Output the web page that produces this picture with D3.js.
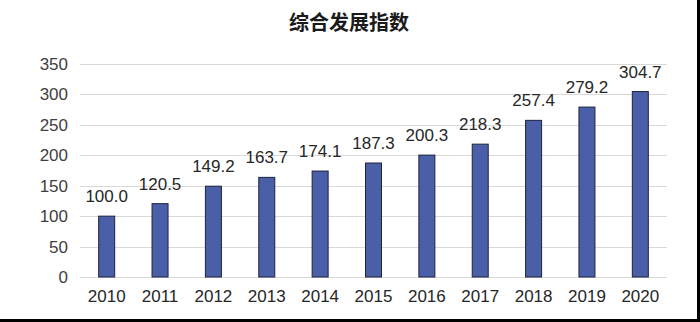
<!DOCTYPE html>
<html>
<head>
<meta charset="utf-8">
<script src="https://cdn.jsdelivr.net/npm/d3@7"></script>
<style>
  body { margin: 0; background: #fff; }
  text { font-family: Arial, "Liberation Sans", "Noto Sans CJK SC", sans-serif; }
</style>
</head>
<body>
<div id="chart"></div>
<script>
// data
var years = ["2010", "2011", "2012", "2013", "2014", "2015", "2016", "2017", "2018", "2019", "2020"];
var values = [100.0, 120.5, 149.2, 163.7, 174.1, 187.3, 200.3, 218.3, 257.4, 279.2, 304.7];
var yTicks = [0, 50, 100, 150, 200, 250, 300, 350];
var title = "综合发展指数";

var W = 700, H = 322;
var margin = {top: 64, right: 33, bottom: 45, left: 80},
    width = W - margin.left - margin.right,
    height = H - margin.top - margin.bottom;

var svg = d3.select("#chart")
  .append("svg")
    .attr("width", W)
    .attr("height", H);

// frame edges (right + bottom)
svg.append("line")
    .attr("x1", 0).attr("x2", W)
    .attr("y1", 320.5).attr("y2", 320.5)
    .style("stroke", "#000").style("stroke-width", 3);
svg.append("line")
    .attr("x1", 698.5).attr("x2", 698.5)
    .attr("y1", 0).attr("y2", H)
    .style("stroke", "#000").style("stroke-width", 3);

svg.append("text")
    .attr("x", 349)
    .attr("y", 30)
    .attr("text-anchor", "middle")
    .style("font-family", "'Noto Sans CJK SC', sans-serif")
    .style("font-size", "20px")
    .style("font-weight", "bold")
    .style("fill", "#1a1a1a")
    .text(title);

var g = svg.append("g")
    .attr("transform", "translate(" + margin.left + "," + margin.top + ")");

var x = d3.scaleBand()
  .domain(years)
  .range([0, width])
  .padding(0);

var y = d3.scaleLinear()
  .domain([0, 350])
  .range([height, 0]);

// gridlines
g.selectAll(".grid")
  .data(yTicks)
  .enter().append("line")
    .attr("class", "grid")
    .attr("x1", 0)
    .attr("x2", width)
    .attr("y1", d => Math.round(y(d)) + 0.5)
    .attr("y2", d => Math.round(y(d)) + 0.5)
    .style("stroke", "#d9d9d9")
    .style("stroke-width", 1);

// y labels
var yAxis = g.append("g")
    .call(d3.axisLeft(y).tickValues(yTicks).tickSize(0).tickPadding(12));
yAxis.select(".domain").remove();
yAxis.selectAll("text")
    .style("font-size", "17px")
    .style("fill", "#404040")
    .style("font-family", "Arial, 'Liberation Sans', sans-serif");

// x labels
var xAxis = g.append("g")
    .attr("transform", "translate(0," + height + ")")
    .call(d3.axisBottom(x).tickSize(0).tickPadding(13));
xAxis.select(".domain").remove();
xAxis.selectAll("text")
    .style("font-size", "17px")
    .style("fill", "#262626")
    .style("font-family", "Arial, 'Liberation Sans', sans-serif");

// bars
var barW = 16;
g.selectAll(".bar")
  .data(values)
  .enter().append("rect")
    .attr("class", "bar")
    .attr("x", (d, i) => x(years[i]) + x.bandwidth() / 2 - barW / 2)
    .attr("y", d => y(d))
    .attr("width", barW)
    .attr("height", d => height - y(d))
    .style("fill", "#4a5fa8")
    .style("stroke", "#1c2340")
    .style("stroke-width", 1);

// value labels
g.selectAll(".bar-label")
  .data(values)
  .enter().append("text")
    .attr("class", "bar-label")
    .attr("x", (d, i) => x(years[i]) + x.bandwidth() / 2)
    .attr("y", d => y(d) - 14)
    .attr("text-anchor", "middle")
    .style("font-size", "17px")
    .style("fill", "#262626")
    .style("font-family", "Arial, 'Liberation Sans', sans-serif")
    .text(d => d3.format(".1f")(d));
</script>
</body>
</html>
